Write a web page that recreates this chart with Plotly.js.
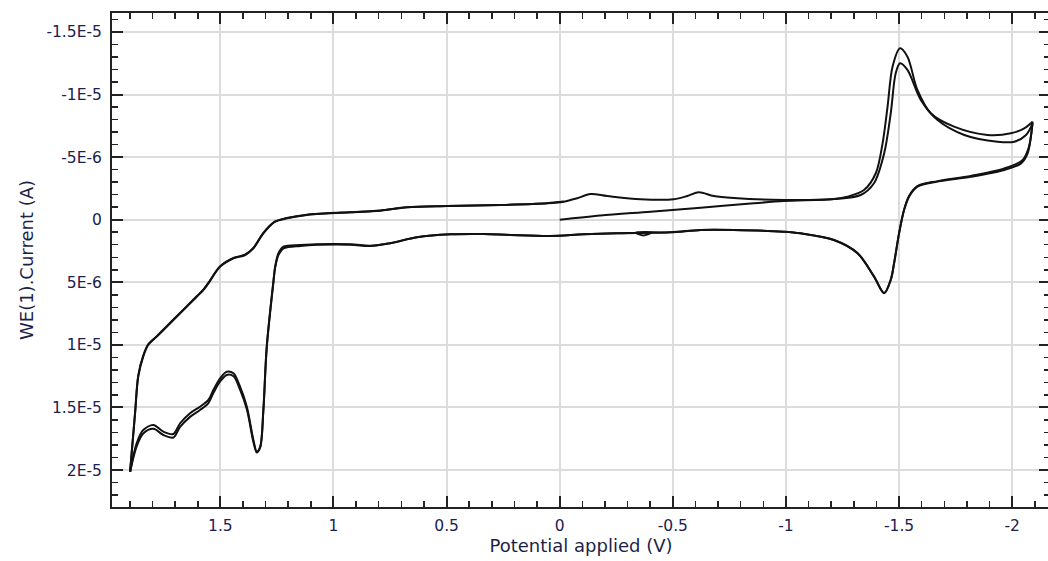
<!DOCTYPE html>
<html>
<head>
<meta charset="utf-8">
<script src="https://cdn.plot.ly/plotly-3.0.1.min.js"></script>
<style>
html,body{margin:0;padding:0;overflow:hidden;background:#fff;}
#chart{width:1050px;height:561px;}
</style>
</head>
<body>
<div id="chart"></div>
<script>
// Potential (V) and current (A), one array pair per sweep.
// Sweep 1: start at 0 V, cathodic scan to -2.09 V
const sweep1_V = [0.000,-0.180,-0.401,-0.623,-0.844,-0.991,-1.212,-1.272,-1.345,-1.397,-1.427,-1.449,-1.471,-1.504,-1.537,-1.581,-1.640,-1.743,-1.891,-1.994,-2.053,-2.090];
const sweep1_I = [0.0e-6,-0.34e-6,-0.64e-6,-0.96e-6,-1.29e-6,-1.49e-6,-1.65e-6,-1.84e-6,-2.37e-6,-3.71e-6,-6.10e-6,-9.03e-6,-12.22e-6,-13.69e-6,-13.02e-6,-10.36e-6,-8.50e-6,-7.43e-6,-6.77e-6,-6.90e-6,-7.30e-6,-7.83e-6];

// Sweep 2: anodic scan -2.09 V -> 1.90 V
const sweep2_V = [-2.090,-2.068,-2.039,-1.965,-1.817,-1.670,-1.581,-1.544,-1.522,-1.500,-1.478,-1.463,-1.434,-1.389,-1.316,-1.212,-1.065,-0.991,-0.770,-0.623,-0.490,-0.335,-0.370,-0.401,-0.254,-0.106,0.041,0.218,0.336,0.484,0.631,0.749,0.838,0.926,1.147,1.221,1.243,1.258,1.265,1.295,1.310,1.324,1.339,1.354,1.383,1.413,1.442,1.472,1.501,1.531,1.553,1.590,1.634,1.678,1.708,1.752,1.796,1.841,1.870,1.899];
const sweep2_I = [-7.83e-6,-5.30e-6,-4.50e-6,-3.97e-6,-3.43e-6,-3.04e-6,-2.64e-6,-1.84e-6,-0.77e-6,1.09e-6,3.48e-6,4.82e-6,5.88e-6,4.55e-6,2.68e-6,1.62e-6,1.09e-6,0.96e-6,0.82e-6,0.82e-6,1.01e-6,1.02e-6,1.26e-6,1.06e-6,1.09e-6,1.17e-6,1.30e-6,1.22e-6,1.14e-6,1.17e-6,1.41e-6,1.88e-6,2.08e-6,1.96e-6,2.02e-6,2.16e-6,2.68e-6,3.75e-6,4.82e-6,10.14e-6,15.20e-6,18.13e-6,18.53e-6,17.60e-6,14.94e-6,13.34e-6,12.27e-6,12.14e-6,12.67e-6,13.60e-6,14.40e-6,14.94e-6,15.46e-6,16.26e-6,17.12e-6,16.93e-6,16.40e-6,16.80e-6,17.86e-6,20.13e-6];

// Sweep 3: cathodic scan 1.90 V -> -2.09 V
const sweep3_V = [1.899,1.877,1.863,1.841,1.819,1.781,1.737,1.678,1.619,1.575,1.553,1.501,1.442,1.391,1.354,1.310,1.258,1.206,1.118,1.015,0.926,0.793,0.675,0.498,0.262,0.056,-0.018,-0.077,-0.136,-0.210,-0.357,-0.504,-0.564,-0.615,-0.681,-0.770,-0.991,-1.212,-1.330,-1.389,-1.434,-1.463,-1.485,-1.504,-1.537,-1.596,-1.670,-1.788,-1.935,-2.009,-2.061,-2.090];
const sweep3_I = [20.13e-6,15.46e-6,12.54e-6,10.94e-6,10.01e-6,9.34e-6,8.55e-6,7.48e-6,6.41e-6,5.61e-6,5.08e-6,3.75e-6,3.08e-6,2.82e-6,2.28e-6,1.09e-6,0.16e-6,-0.11e-6,-0.38e-6,-0.51e-6,-0.59e-6,-0.72e-6,-0.99e-6,-1.09e-6,-1.17e-6,-1.31e-6,-1.44e-6,-1.71e-6,-2.05e-6,-1.89e-6,-1.63e-6,-1.63e-6,-1.89e-6,-2.19e-6,-1.89e-6,-1.73e-6,-1.57e-6,-1.65e-6,-1.97e-6,-2.91e-6,-5.30e-6,-8.50e-6,-11.69e-6,-12.49e-6,-11.96e-6,-9.56e-6,-7.96e-6,-6.77e-6,-6.23e-6,-6.23e-6,-6.77e-6,-7.70e-6];

// Sweep 4: anodic scan -2.09 V -> 1.90 V
const sweep4_V = [-2.090,-2.072,-2.045,-1.965,-1.817,-1.670,-1.581,-1.544,-1.522,-1.500,-1.478,-1.463,-1.434,-1.389,-1.316,-1.212,-1.065,-0.991,-0.770,-0.623,-0.490,-0.254,-0.106,0.041,0.218,0.336,0.484,0.631,0.749,0.838,0.926,1.147,1.221,1.243,1.258,1.265,1.295,1.310,1.324,1.339,1.354,1.383,1.413,1.442,1.472,1.501,1.531,1.553,1.590,1.634,1.678,1.708,1.752,1.796,1.841,1.870,1.899];
const sweep4_I = [-7.70e-6,-5.70e-6,-4.75e-6,-4.10e-6,-3.50e-6,-3.08e-6,-2.68e-6,-1.90e-6,-0.80e-6,1.05e-6,3.45e-6,4.80e-6,5.85e-6,4.52e-6,2.66e-6,1.62e-6,1.09e-6,0.96e-6,0.82e-6,0.82e-6,1.01e-6,1.09e-6,1.17e-6,1.30e-6,1.22e-6,1.14e-6,1.17e-6,1.41e-6,1.88e-6,2.10e-6,2.00e-6,2.10e-6,2.30e-6,2.80e-6,3.85e-6,4.90e-6,10.20e-6,15.25e-6,18.20e-6,18.60e-6,17.75e-6,15.15e-6,13.58e-6,12.50e-6,12.40e-6,12.92e-6,13.85e-6,14.65e-6,15.20e-6,15.75e-6,16.55e-6,17.40e-6,17.20e-6,16.70e-6,17.08e-6,18.10e-6,20.13e-6];

// Sweep 5: cathodic scan 1.90 V -> 0 V
const sweep5_V = [1.899,1.877,1.863,1.841,1.819,1.781,1.737,1.678,1.619,1.575,1.553,1.501,1.442,1.391,1.354,1.310,1.258,1.206,1.118,1.015,0.926,0.793,0.675,0.498,0.262,0.056,-0.018];
const sweep5_I = [20.13e-6,15.40e-6,12.45e-6,10.85e-6,9.95e-6,9.30e-6,8.50e-6,7.45e-6,6.38e-6,5.58e-6,5.05e-6,3.72e-6,3.05e-6,2.80e-6,2.25e-6,1.05e-6,0.14e-6,-0.13e-6,-0.40e-6,-0.53e-6,-0.60e-6,-0.74e-6,-1.00e-6,-1.10e-6,-1.18e-6,-1.32e-6,-1.45e-6];

// Axis ticks
const xTickVals = [1.5, 1, 0.5, 0, -0.5, -1, -1.5, -2];
const xTickText = ['1.5', '1', '0.5', '0', '-0.5', '-1', '-1.5', '-2'];
const yTickVals = [-1.5e-5, -1e-5, -5e-6, 0, 5e-6, 1e-5, 1.5e-5, 2e-5];
const yTickText = ['-1.5E-5', '-1E-5', '-5E-6', '0', '5E-6', '1E-5', '1.5E-5', '2E-5'];

const sweeps = [[sweep1_V, sweep1_I],[sweep2_V, sweep2_I],[sweep3_V, sweep3_I],[sweep4_V, sweep4_I],[sweep5_V, sweep5_I]];
const traces = sweeps.map(s => ({
  x: s[0], y: s[1], type: 'scatter', mode: 'lines',
  line: {color: '#111111', width: 2, shape: 'spline', smoothing: 0.9},
  hoverinfo: 'skip', showlegend: false
}));

const tickFont = {family: 'DejaVu Sans, sans-serif', size: 15.5, color: '#1c2150'};
const titleFont = {family: 'DejaVu Sans, sans-serif', size: 18, color: '#1c1f48'};

const commonAxis = {
  showline: true, linecolor: '#222222', linewidth: 2, mirror: 'allticks',
  ticks: 'inside', ticklen: 11, tickwidth: 2, tickcolor: '#222222',
  showgrid: true, gridcolor: '#dcdcdc', gridwidth: 2, zeroline: false,
  tickmode: 'array', tickfont: tickFont
};

const layout = {
  width: 1050, height: 561,
  margin: {l: 112, r: 0, t: 13, b: 54},
  paper_bgcolor: '#ffffff', plot_bgcolor: '#ffffff',
  xaxis: Object.assign({}, commonAxis, {
    range: [1.979, -2.167],
    tickvals: xTickVals, ticktext: xTickText,
    ticklabelstandoff: 3,
    minor: {dtick: 0.1, tick0: 0, ticks: 'inside', ticklen: 6, tickwidth: 1.5, tickcolor: '#222222', showgrid: false},
    title: {text: 'Potential applied (V)', font: titleFont, standoff: 6}
  }),
  yaxis: Object.assign({}, commonAxis, {
    range: [2.295e-5, -1.651e-5],
    tickvals: yTickVals, ticktext: yTickText,
    ticklabelstandoff: 5,
    minor: {dtick: 1e-6, tick0: 0, ticks: 'inside', ticklen: 6, tickwidth: 1.5, tickcolor: '#222222', showgrid: false},
    title: {text: 'WE(1).Current (A)', font: titleFont, standoff: 8}
  })
};

Plotly.newPlot('chart', traces, layout, {displayModeBar: false, staticPlot: true});
</script>
</body>
</html>
